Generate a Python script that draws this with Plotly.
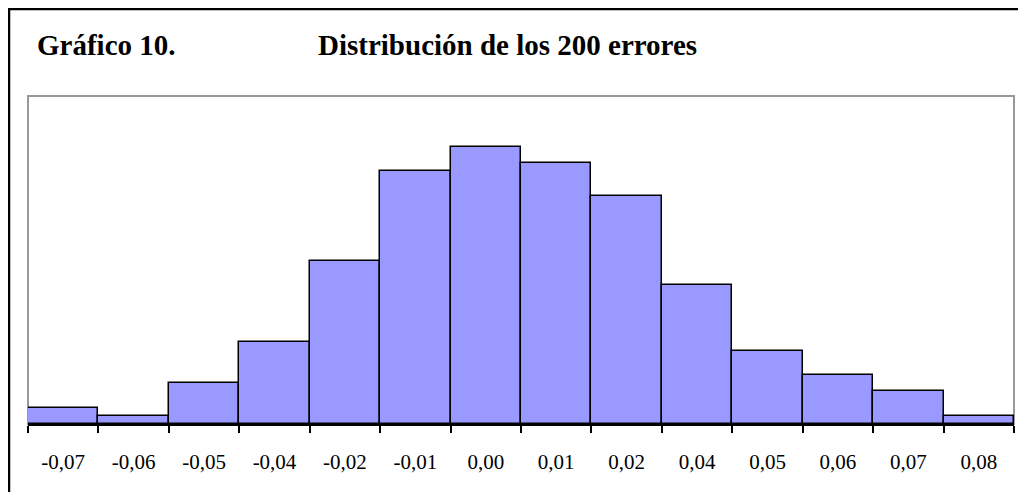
import plotly.graph_objects as go

# Histogram of the 200 errors (class marks and counts)
classes = ["-0,07", "-0,06", "-0,05", "-0,04", "-0,02", "-0,01", "0,00",
           "0,01", "0,02", "0,04", "0,05", "0,06", "0,07", "0,08"]
counts = [2, 1, 5, 10, 20, 31, 34, 32, 28, 17, 9, 6, 4, 1]

chart_label = "Gráfico 10."
chart_title = "Distribución de los 200 errores"

# the page body adds an 8px margin, so the figure is shifted by 8px
OFF = 8
W, H = 1026 - OFF, 492 - OFF
L, R, T, B = 28 - OFF, 12, 96 - OFF, 68
pw, ph = W - L - R, H - T - B


def px_x(x):
    # screen pixel -> paper coordinate
    return (x - OFF - L) / pw


def px_y(y):
    return (H - B - (y - OFF)) / ph


fig = go.Figure()

fig.add_trace(
    go.Bar(
        x=classes,
        y=counts,
        marker=dict(color="#9999FF", line=dict(color="black", width=1.5)),
        showlegend=False,
        hoverinfo="x+y",
    )
)

# grey plot-area frame and black outer frame
fig.add_shape(type="rect", xref="paper", yref="paper", x0=0, y0=0, x1=1, y1=1,
              line=dict(color="#999999", width=2), layer="below")
fig.add_shape(type="rect", xref="paper", yref="paper",
              x0=px_x(9), y0=px_y(520), x1=px_x(1060), y1=px_y(9),
              line=dict(color="black", width=2.5))

title_font = dict(family="Liberation Serif", size=29, color="black")
fig.add_annotation(text="<b>%s</b>" % chart_label, xref="paper", yref="paper",
                   x=px_x(35), y=px_y(45), xanchor="left", yanchor="middle",
                   showarrow=False, font=title_font)
fig.add_annotation(text="<b>%s</b>" % chart_title, xref="paper", yref="paper",
                   x=px_x(316), y=px_y(45), xanchor="left", yanchor="middle",
                   showarrow=False, font=title_font)

fig.update_layout(
    width=W,
    height=H,
    margin=dict(l=L, r=R, t=T, b=B),
    paper_bgcolor="white",
    plot_bgcolor="white",
    bargap=0,
    font=dict(family="Liberation Serif", size=21, color="black"),
    xaxis=dict(
        type="category",
        tickson="boundaries",
        ticks="outside",
        ticklen=7,
        tickwidth=1.5,
        tickcolor="black",
        ticklabelstandoff=18,
        showline=True,
        linecolor="black",
        linewidth=2,
        showgrid=False,
        tickfont=dict(family="Liberation Serif", size=21),
        range=[-0.5, len(classes) - 0.5],
    ),
    yaxis=dict(visible=False, range=[0, 40.2], showgrid=False),
)

fig.write_html("out.html")
